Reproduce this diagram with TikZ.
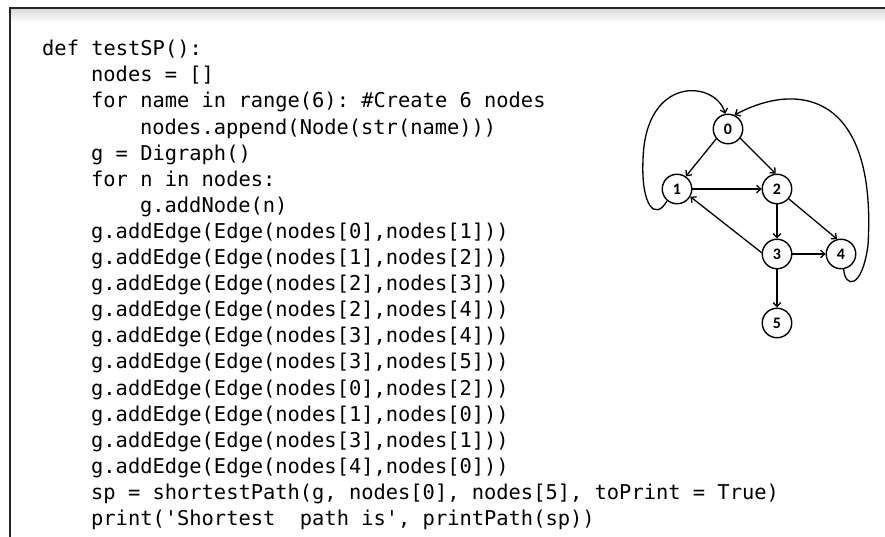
\documentclass[tikz,border=0pt]{standalone}
\usepackage{fontspec}
\setmonofont{DejaVu Sans Mono}
\newfontfamily\labelfont{Carlito}
\usetikzlibrary{arrows.meta,positioning}
\newcommand\ind{\hspace*{2.4em}}

\tikzset{
  vertex/.style={circle,draw,line width=1.4pt,minimum size=29.5pt,inner sep=0pt,
    font=\labelfont\bfseries\fontsize{16}{16}\selectfont},
  edge/.style={line width=1.3pt,-{Straight Barb[length=4pt,width=7.5pt]}},
  code/.style={anchor=north west,inner sep=0pt,align=left,
    font=\ttfamily\fontsize{20.4}{26.1}\selectfont}
}

\begin{document}
\begin{tikzpicture}[x=1pt,y=-1pt]
\useasboundingbox (0,0) rectangle (885,537);
% frame
\shade[top color=black!15,bottom color=white] (11,9) rectangle (885,22);
\draw[line width=2pt,black!85] (10,537) -- (10,8) -- (885,8);
% code
\node[code] (src) at (42,40) {def testSP():\\
\ind nodes = []\\
\ind for name in range(6): \#Create 6 nodes\\
\ind\ind nodes.append(Node(str(name)))\\
\ind g = Digraph()\\
\ind for n in nodes:\\
\ind\ind g.addNode(n)\\
\ind g.addEdge(Edge(nodes[0],nodes[1]))\\
\ind g.addEdge(Edge(nodes[1],nodes[2]))\\
\ind g.addEdge(Edge(nodes[2],nodes[3]))\\
\ind g.addEdge(Edge(nodes[2],nodes[4]))\\
\ind g.addEdge(Edge(nodes[3],nodes[4]))\\
\ind g.addEdge(Edge(nodes[3],nodes[5]))\\
\ind g.addEdge(Edge(nodes[0],nodes[2]))\\
\ind g.addEdge(Edge(nodes[1],nodes[0]))\\
\ind g.addEdge(Edge(nodes[3],nodes[1]))\\
\ind g.addEdge(Edge(nodes[4],nodes[0]))\\
\ind sp = shortestPath(g, nodes[0], nodes[5], toPrint = True)\\
\ind print('Shortest\ \ path is', printPath(sp))};
% graph
\node[vertex] (n0) at (728,129) {0};
\node[vertex] (n1) at (677,189) {1};
\node[vertex] (n2) at (777,189) {2};
\node[vertex] (n3) at (777,254) {3};
\node[vertex] (n4) at (841,254) {4};
\node[vertex] (n5) at (777,323) {5};
\draw[edge] (n0.220) -- (n1.55);
\draw[edge] (n0.-37) -- (n2.95);
\draw[edge] (n1) -- (n2);
\draw[edge] (n2) -- (n3);
\draw[edge] (n2.-40) -- (n4.105);
\draw[edge] (n3) -- (n4);
\draw[edge] (n3) -- (n5);
\draw[edge] (n3.175) -- (n1.-30);
\draw[edge] (n1.230) .. controls (655,222) and (641,205) .. (643,160)
  .. controls (645,75) and (715,80) .. (n0.100);
\draw[edge] (n4.280) .. controls (845,288) and (862,290) .. (868,245)
  .. controls (877,95) and (800,80) .. (n0.65);
\end{tikzpicture}
\end{document}
